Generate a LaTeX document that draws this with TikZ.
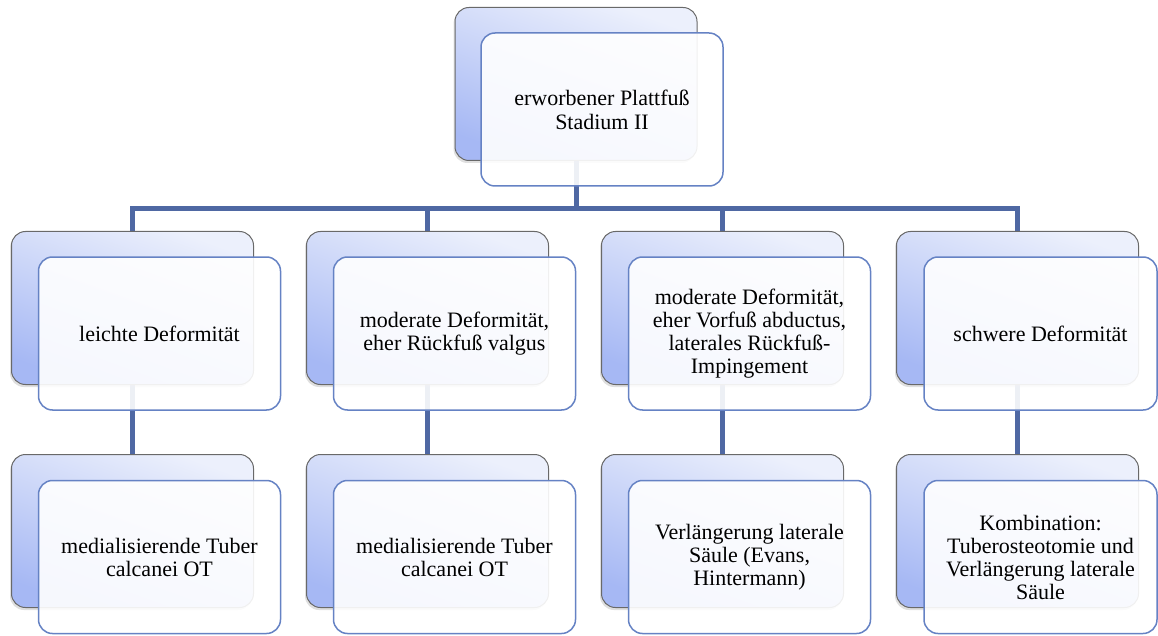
\documentclass[tikz,border=0pt]{standalone}
\usepackage{fontspec}
\setmainfont{Liberation Serif}
\usepackage{tikz}
\usetikzlibrary{backgrounds,shadows}
\definecolor{linie}{RGB}{79,104,163}
\definecolor{rahmen}{RGB}{101,130,196}
\definecolor{grau}{RGB}{105,105,105}
\definecolor{hell}{RGB}{236,240,252}
\definecolor{dunkel}{RGB}{166,184,244}

\begin{document}
\begin{tikzpicture}[x=1pt,y=-1pt,
	hinten/.style={draw=grau, line width=1pt, rounded corners=14pt, inner sep=0pt,
		minimum width=242pt, minimum height=153pt,
		top color=hell, bottom color=dunkel, shading angle=-20,
		drop shadow={shadow xshift=-1.5pt, shadow yshift=-2.5pt, opacity=.25}},
	vorne/.style={draw=rahmen, line width=1.5pt, rounded corners=14pt, inner sep=0pt,
		minimum width=242pt, minimum height=153pt,
		fill=white, fill opacity=.9, text opacity=1, align=center,
		font=\fontsize{22}{23}\selectfont},
	verbinder/.style={draw=linie, line width=5pt}
]
\useasboundingbox (0,0) rectangle (1158,636);

% Wurzel
\node[hinten] (h0) at (576,84) {};
\node[vorne, font=\fontsize{22}{24}\selectfont] (v0) at (602,109.5) {erworbener Plattfuß\\Stadium II};

% Stufe 2
\node[hinten] (h1) at (132.5,308) {};
\node[vorne] (v1) at (159.5,333.5) {leichte Deformität};
\node[hinten] (h2) at (427.5,308) {};
\node[vorne] (v2) at (454.5,333.5) {moderate Deformität,\\eher Rückfuß valgus};
\node[hinten] (h3) at (722.5,308) {};
\node[vorne] (v3) at (749.5,333.5) {moderate Deformität,\\eher Vorfuß abductus,\\laterales Rückfuß-\\Impingement};
\node[hinten] (h4) at (1017.5,308) {};
\node[vorne, minimum width=233pt] (v4) at (1040.5,333.5) {schwere Deformität};

% Stufe 3
\node[hinten] (k1) at (132.5,531) {};
\node[vorne] (w1) at (159.5,557) {medialisierende Tuber\\calcanei OT};
\node[hinten] (k2) at (427.5,531) {};
\node[vorne] (w2) at (454.5,557) {medialisierende Tuber\\calcanei OT};
\node[hinten] (k3) at (722.5,531) {};
\node[vorne] (w3) at (749.5,557) {Verlängerung laterale\\Säule (Evans,\\Hintermann)};
\node[hinten] (k4) at (1017.5,531) {};
\node[vorne, minimum width=233pt] (w4) at (1040.5,557) {Kombination:\\Tuberosteotomie und\\Verlängerung laterale\\Säule};

\begin{scope}[on background layer]
\coordinate (bus) at (576,209);
\path[verbinder] (h0.south) -- (bus);
\foreach \i in {1,...,4}{
	\path[verbinder] (bus) -| (h\i.north);
	\path[verbinder] (h\i.south) -- (k\i.north);
}
\end{scope}
\end{tikzpicture}
\end{document}
